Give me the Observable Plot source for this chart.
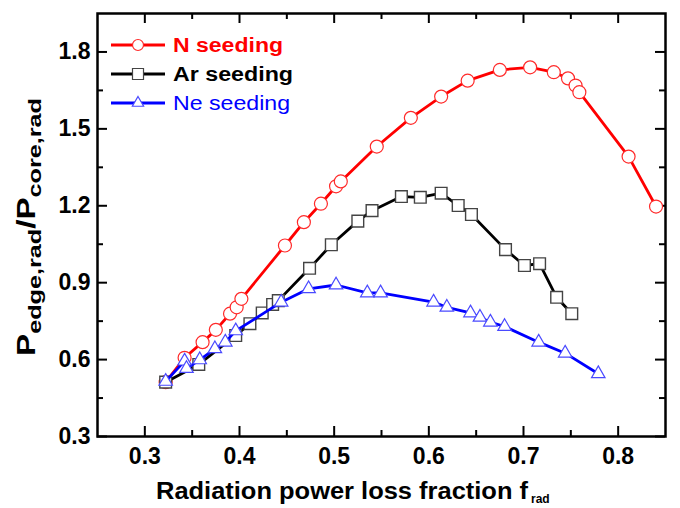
<!DOCTYPE html>
<html>
<head>
<meta charset="utf-8">
<script src="https://cdn.jsdelivr.net/npm/d3@7"></script>
<script src="https://cdn.jsdelivr.net/npm/@observablehq/plot@0.6"></script>
<style>
  html, body { margin: 0; padding: 0; background: white; }
</style>
</head>
<body>
<div id="chart"></div>
<script>
// ---- data ----
const nX = [0.322,0.342,0.361,0.375,0.390,0.397,0.402,0.448,0.468,0.486,0.502,0.507,0.545,0.581,0.613,0.641,0.675,0.707,0.732,0.747,0.755,0.759,0.811,0.840];
const nY = [0.512,0.607,0.668,0.716,0.779,0.804,0.837,1.045,1.136,1.208,1.276,1.295,1.431,1.543,1.626,1.688,1.730,1.740,1.721,1.697,1.669,1.643,1.392,1.197];

const arX = [0.322,0.357,0.396,0.411,0.424,0.435,0.441,0.474,0.497,0.525,0.540,0.571,0.591,0.613,0.631,0.645,0.681,0.701,0.717,0.735,0.751];
const arY = [0.512,0.581,0.694,0.740,0.782,0.815,0.830,0.956,1.048,1.140,1.181,1.236,1.233,1.249,1.201,1.166,1.029,0.967,0.974,0.843,0.779];

const neX = [0.322,0.342,0.344,0.358,0.374,0.385,0.396,0.444,0.473,0.502,0.535,0.549,0.605,0.619,0.644,0.654,0.665,0.680,0.716,0.744,0.779];
const neY = [0.515,0.594,0.565,0.599,0.642,0.668,0.712,0.824,0.876,0.891,0.860,0.860,0.824,0.804,0.782,0.765,0.746,0.729,0.668,0.625,0.545];

const xMajor = [0.3,0.4,0.5,0.6,0.7,0.8];
const xMinor = [0.35,0.45,0.55,0.65,0.75];
const yMajor = [0.3,0.6,0.9,1.2,1.5,1.8];
const yMinor = [0.45,0.75,1.05,1.35,1.65];

const seriesNames = ["N seeding","Ar seeding","Ne seeding"];

const toRows = (xs, ys) => xs.map((x, i) => ({x, y: ys[i]}));
const N = toRows(nX, nY), Ar = toRows(arX, arY), Ne = toRows(neX, neY);

const W = 680, H = 508, mL = 97, mR = 15, mT = 13, mB = 72;
const iW = W - mL - mR, iH = H - mT - mB;
const FONT = "'Liberation Sans', Arial, Helvetica, sans-serif";

const tickStyle = {stroke: "black", strokeWidth: 2};

const chart = Plot.plot({
  width: W, height: H,
  marginLeft: mL, marginRight: mR, marginTop: mT, marginBottom: mB,
  x: {domain: [0.25, 0.85]},
  y: {domain: [0.3, 1.95]},
  style: {fontFamily: FONT, background: "white", color: "black"},
  marks: [
    Plot.axisX(xMajor, {tickSize: 0, tickPadding: 11, tickFormat: d3.format(".1f"), fontSize: 23, fontWeight: "bold", label: null}),
    Plot.axisY(yMajor, {tickSize: 0, tickPadding: 7, tickFormat: d3.format(".1f"), fontSize: 23, fontWeight: "bold", label: null}),
    // inward ticks on all four sides
    Plot.tickX(xMajor, {x: d => d, insetTop: iH - 10, ...tickStyle}),
    Plot.tickX(xMinor, {x: d => d, insetTop: iH - 6, ...tickStyle}),
    Plot.tickX(xMajor, {x: d => d, insetBottom: iH - 10, ...tickStyle}),
    Plot.tickX(xMinor, {x: d => d, insetBottom: iH - 6, ...tickStyle}),
    Plot.tickY(yMajor, {y: d => d, insetRight: iW - 10, ...tickStyle}),
    Plot.tickY(yMinor, {y: d => d, insetRight: iW - 6, ...tickStyle}),
    Plot.tickY(yMajor, {y: d => d, insetLeft: iW - 10, ...tickStyle}),
    Plot.tickY(yMinor, {y: d => d, insetLeft: iW - 6, ...tickStyle}),
    // N seeding
    Plot.line(N, {x: "x", y: "y", stroke: "#ff0000", strokeWidth: 2.8}),
    Plot.dot(N, {x: "x", y: "y", r: 6.5, stroke: "#ff2a2a", fill: "white", strokeWidth: 1.2}),
    // Ar seeding
    Plot.line(Ar, {x: "x", y: "y", stroke: "#000000", strokeWidth: 2.8}),
    Plot.dot(Ar, {x: "x", y: "y", r: 6.6, symbol: "square", stroke: "#444444", fill: "white", strokeWidth: 1.4}),
    // Ne seeding
    Plot.line(Ne, {x: "x", y: "y", stroke: "#0000ff", strokeWidth: 2.8}),
    Plot.dot(Ne, {x: "x", y: "y", r: 5, symbol: "triangle", stroke: "#4a4aff", fill: "white", strokeWidth: 1.2}),
    Plot.frame({stroke: "black", strokeWidth: 2.5})
  ]
});

document.getElementById("chart").appendChild(chart);

const svg = d3.select(chart);

// ---- legend ----
const legend = [
  {name: seriesNames[0], color: "#ff0000", mcolor: "#ff2a2a", sym: d3.symbolCircle, size: Math.PI * 5.5 * 5.5, weight: "bold", tl: 110},
  {name: seriesNames[1], color: "#000000", mcolor: "#444444", sym: d3.symbolSquare, size: 11 * 11, weight: "bold", tl: 120},
  {name: seriesNames[2], color: "#0000ff", mcolor: "#4a4aff", sym: d3.symbolTriangle, size: 55, weight: "normal", tl: 117}
];
const lg = svg.append("g").attr("text-anchor", "start");
legend.forEach((d, i) => {
  const cy = 45 + i * 29;
  lg.append("line").attr("x1", 111).attr("x2", 165).attr("y1", cy).attr("y2", cy)
    .attr("stroke", d.color).attr("stroke-width", 2.8);
  lg.append("path").attr("d", d3.symbol(d.sym, d.size)()).attr("transform", `translate(138,${cy})`)
    .attr("fill", "white").attr("stroke", d.mcolor).attr("stroke-width", 1.2);
  lg.append("text").attr("x", 173).attr("y", cy + 7).attr("fill", d.color)
    .attr("text-anchor", "start")
    .attr("font-family", FONT).attr("font-size", 20).attr("font-weight", d.weight)
    .attr("textLength", d.tl).attr("lengthAdjust", "spacingAndGlyphs")
    .text(d.name);
});

// ---- axis titles ----
svg.append("text").attr("x", 156).attr("y", 499).attr("font-family", FONT)
  .attr("text-anchor", "start")
  .attr("font-size", 23).attr("font-weight", "bold").attr("fill", "black")
  .attr("textLength", 372).attr("lengthAdjust", "spacingAndGlyphs")
  .text("Radiation power loss fraction f");
svg.append("text").attr("x", 531).attr("y", 503).attr("font-family", FONT)
  .attr("text-anchor", "start")
  .attr("font-size", 12).attr("font-weight", "bold").attr("fill", "black")
  .text("rad");

const yt = svg.append("text").attr("transform", "translate(35,227) rotate(-90)")
  .attr("text-anchor", "middle").attr("font-family", FONT).attr("font-weight", "bold")
  .attr("fill", "black").attr("textLength", 258).attr("lengthAdjust", "spacingAndGlyphs");
yt.append("tspan").attr("font-size", 25).text("P");
yt.append("tspan").attr("font-size", 19).attr("dy", 6).text("edge,rad");
yt.append("tspan").attr("font-size", 25).attr("dy", -6).text("/P");
yt.append("tspan").attr("font-size", 19).attr("dy", 6).text("core,rad");
</script>
</body>
</html>
